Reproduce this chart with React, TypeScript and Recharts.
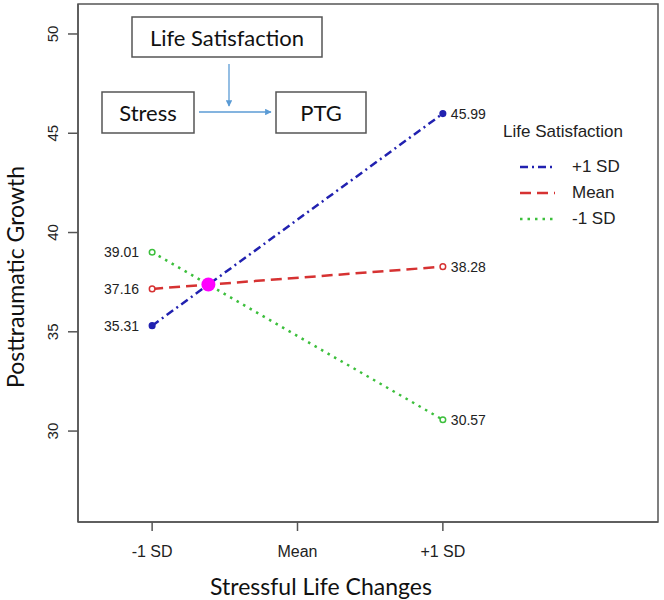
import {
    LabelList,
    Legend,
    Line,
    LineChart,
    ReferenceArea,
    ReferenceDot,
    XAxis,
    YAxis,
} from 'recharts';

const stressLevels = ['-1 SD', 'Mean', '+1 SD'];
const stressTicks = [1, 2, 3];
const pointX = [1, 3];
const highSatisfaction = [35.31, 45.99];
const meanSatisfaction = [37.16, 38.28];
const lowSatisfaction = [39.01, 30.57];
const growthTicks = [30, 35, 40, 45, 50];
const crossing = { x: 1.387, y: 37.38 };

const xDomain: [number, number] = [0.49, 4.48];
const yDomain: [number, number] = [25.42, 51.51];

const data = pointX.map((x, i) => ({
    x,
    high: highSatisfaction[i],
    mean: meanSatisfaction[i],
    low: lowSatisfaction[i],
}));

const series = [
    { key: 'high', name: '+1 SD', color: '#2121b0', dash: '8 4 2 4', hollow: false },
    { key: 'mean', name: 'Mean', color: '#d63232', dash: '11 6', hollow: true },
    { key: 'low', name: '-1 SD', color: '#3cbf3c', dash: '2.5 5', hollow: true },
];

const axisColor = '#555';
const calibriLike = 'Lato, "Open Sans", sans-serif';

const XTick = ({ x, y, payload }: any) => (
    <text
        x={x}
        y={y + 18}
        textAnchor="middle"
        dominantBaseline="central"
        fontSize={16}
        fill="#222"
    >
        {stressLevels[stressTicks.indexOf(payload.value)]}
    </text>
);

const YTick = ({ y, payload }: any) => (
    <text
        x={53}
        y={y}
        transform={`rotate(-90, 53, ${y})`}
        textAnchor="middle"
        dominantBaseline="central"
        fontSize={15}
        fill="#222"
    >
        {payload.value}
    </text>
);

const PointLabel = ({ x, y, value, index }: any) => {
    const left = index === 0;
    return (
        <text
            x={left ? x - 13 : x + 8}
            y={y}
            textAnchor={left ? 'end' : 'start'}
            dominantBaseline="central"
            fontSize={14}
            fill="#222"
        >
            {Number(value).toFixed(2)}
        </text>
    );
};

const LegendBox = () => (
    <div style={{ fontFamily: '"Liberation Sans", Arial, sans-serif', color: '#222' }}>
        <div style={{ fontSize: 17, lineHeight: '20px' }}>Life Satisfaction</div>
        <div style={{ marginTop: 12 }}>
            {series.map((s) => (
                <div
                    key={s.key}
                    style={{ display: 'flex', alignItems: 'center', height: 26 }}
                >
                    <svg width={52} height={10} style={{ marginLeft: 17 }}>
                        <line
                            x1={0}
                            y1={5}
                            x2={35}
                            y2={5}
                            stroke={s.color}
                            strokeWidth={2.5}
                            strokeDasharray={s.dash}
                        />
                    </svg>
                    <span style={{ fontSize: 17 }}>{s.name}</span>
                </div>
            ))}
        </div>
    </div>
);

const boxStyle = { fill: '#fff', stroke: '#555', strokeWidth: 1.5 };
const arrowColor = '#5b9bd5';

export default function App() {
    return (
        <div
            style={{
                position: 'absolute',
                left: 0,
                top: 0,
                width: 664,
                height: 600,
                background: '#fff',
                fontFamily: '"Liberation Sans", Arial, sans-serif',
            }}
        >
            <LineChart
                width={664}
                height={600}
                data={data}
                margin={{ top: 4, right: 6, left: 0, bottom: 0 }}
            >
                <XAxis
                    dataKey="x"
                    type="number"
                    domain={xDomain}
                    ticks={stressTicks}
                    allowDataOverflow
                    height={78}
                    tickSize={9}
                    tick={<XTick />}
                    stroke={axisColor}
                    strokeWidth={1.5}
                />
                <YAxis
                    type="number"
                    domain={yDomain}
                    ticks={growthTicks}
                    allowDataOverflow
                    width={78}
                    tickSize={10}
                    tick={<YTick />}
                    stroke={axisColor}
                    strokeWidth={1.5}
                />
                <ReferenceArea
                    x1={xDomain[0]}
                    x2={xDomain[1]}
                    y1={yDomain[0]}
                    y2={yDomain[1]}
                    fill="none"
                    fillOpacity={0}
                    stroke={axisColor}
                    strokeWidth={1.5}
                    ifOverflow="visible"
                />
                <Legend
                    layout="vertical"
                    align="center"
                    verticalAlign="middle"
                    content={<LegendBox />}
                    wrapperStyle={{ left: 503, top: 122, width: 150 }}
                />
                {series.map((s) => (
                    <Line
                        key={s.key}
                        type="linear"
                        dataKey={s.key}
                        name={s.name}
                        stroke={s.color}
                        strokeWidth={2.5}
                        strokeDasharray={s.dash}
                        dot={{
                            r: 2.8,
                            fill: s.hollow ? '#fff' : s.color,
                            stroke: s.color,
                            strokeWidth: 1.5,
                            strokeDasharray: '0',
                        }}
                        isAnimationActive={false}
                    >
                        <LabelList dataKey={s.key} content={<PointLabel />} />
                    </Line>
                ))}
                <ReferenceDot
                    x={crossing.x}
                    y={crossing.y}
                    r={7}
                    fill="#ff00ff"
                    stroke="none"
                />
            </LineChart>
            <svg
                width={664}
                height={600}
                style={{ position: 'absolute', left: 0, top: 0, pointerEvents: 'none' }}
            >
                <defs>
                    <marker
                        id="arrowHead"
                        viewBox="0 0 10 10"
                        refX={9}
                        refY={5}
                        markerWidth={5}
                        markerHeight={5}
                        orient="auto"
                    >
                        <path d="M0,0 L10,5 L0,10 z" fill={arrowColor} />
                    </marker>
                </defs>
                <rect x={132} y={17} width={190} height={40} {...boxStyle} />
                <rect x={102} y={92} width={92} height={41} {...boxStyle} />
                <rect x={276} y={92} width={90} height={41} {...boxStyle} />
                <g fontFamily={calibriLike} fontSize={22} fill="#111">
                    <text x={227} y={37} textAnchor="middle" dominantBaseline="central">
                        Life Satisfaction
                    </text>
                    <text x={148} y={112} textAnchor="middle" dominantBaseline="central">
                        Stress
                    </text>
                    <text x={321} y={112} textAnchor="middle" dominantBaseline="central">
                        PTG
                    </text>
                </g>
                <line
                    x1={229}
                    y1={64}
                    x2={229}
                    y2={106}
                    stroke={arrowColor}
                    strokeWidth={1.3}
                    markerEnd="url(#arrowHead)"
                />
                <line
                    x1={199}
                    y1={112}
                    x2={271}
                    y2={112}
                    stroke={arrowColor}
                    strokeWidth={1.3}
                    markerEnd="url(#arrowHead)"
                />
                <text
                    x={321}
                    y={586}
                    textAnchor="middle"
                    dominantBaseline="central"
                    fontFamily={calibriLike}
                    fontSize={23}
                    fill="#111"
                >
                    Stressful Life Changes
                </text>
                <text
                    x={15}
                    y={277}
                    transform="rotate(-90, 15, 277)"
                    textAnchor="middle"
                    dominantBaseline="central"
                    fontFamily={calibriLike}
                    fontSize={23}
                    fill="#111"
                >
                    Posttraumatic Growth
                </text>
            </svg>
        </div>
    );
}
